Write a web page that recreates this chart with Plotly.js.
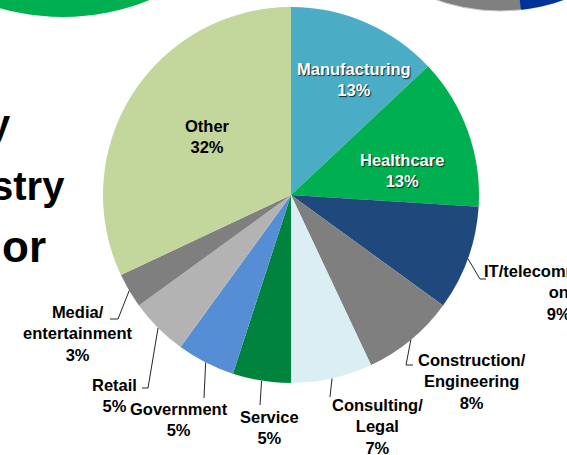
<!DOCTYPE html>
<html>
<head>
<meta charset="utf-8">
<script src="https://cdn.plot.ly/plotly-3.0.1.min.js"></script>
<style>
  html, body { margin: 0; padding: 0; background: #ffffff; }
  #chart { width: 567px; height: 455px; }
</style>
</head>
<body>
<div id="chart"></div>
<script>
// ---------------- DATA ----------------
const categories = ['Manufacturing', 'Healthcare', 'IT/telecommunication', 'Construction/Engineering',
  'Consulting/Legal', 'Service', 'Government', 'Retail', 'Media/entertainment', 'Other'];
const shares = [13, 13, 9, 8, 7, 5, 5, 5, 3, 32];
const labelText = ['Manufacturing', 'Healthcare', 'IT/telecommunicati<br>on', 'Construction/<br>Engineering',
  'Consulting/<br>Legal', 'Service', 'Government', 'Retail', 'Media/<br>entertainment', 'Other'];
const titleFragments = ['y', 'stry', 'or'];

// ---------------- STYLE / LAYOUT ----------------
const W = 567, H = 455;
const fx = x => x / W;
const fy = y => 1 - y / H;

const sliceColors = ['#4BACC6', '#00B050', '#1F497D', '#7F7F7F', '#DAEEF3',
  '#00843D', '#558ED5', '#B3B3B3', '#7F7F7F', '#C3D69B'];

const pie = { cx: 291, cy: 195, R: 188 };

// label block centre (px) and leader-line waypoints after the slice edge (px)
const labelPlace = [
  { x: 354, y: 79, color: '#ffffff', shadow: true },
  { x: 402, y: 170, color: '#ffffff', shadow: true },
  { x: 558, y: 292, lead: [[480, 279], [486, 279]] },
  { x: 472, y: 381, lead: [[406, 365], [413, 365]] },
  { x: 377, y: 426, lead: [[330, 397]] },
  { x: 269, y: 427, lead: [[260, 405]] },
  { x: 179, y: 419, lead: [[204, 398]] },
  { x: 114, y: 395, lead: [[148, 388], [142, 388]] },
  { x: 78, y: 333, lead: [[118, 319], [110, 319]] },
  { x: 207, y: 136, color: '#000000' }
];

const fontFam = '"Liberation Sans", Arial, sans-serif';

// ---------------- BUILD ----------------
const trace = {
  type: 'pie',
  labels: categories,
  values: shares,
  sort: false,
  direction: 'clockwise',
  rotation: 0,
  textinfo: 'none',
  hoverinfo: 'skip',
  showlegend: false,
  marker: { colors: sliceColors, line: { width: 0 } },
  domain: {
    x: [fx(pie.cx - pie.R), fx(pie.cx + pie.R)],
    y: [fy(pie.cy + pie.R), fy(pie.cy - pie.R)]
  }
};

const total = shares.reduce((a, b) => a + b, 0);
const annotations = [];
const shapes = [];

// decorative neighbouring charts (cropped slide)
shapes.push({ type: 'circle', xref: 'paper', yref: 'paper', layer: 'below',
  x0: fx(63 - 229), x1: fx(63 + 229), y0: fy(-212 + 229), y1: fy(-212 - 229),
  fillcolor: '#00B050', line: { width: 0 } });
(function () {
  const c = [500, -178], r = 189;
  shapes.push({ type: 'circle', xref: 'paper', yref: 'paper', layer: 'below',
    x0: fx(c[0] - r), x1: fx(c[0] + r), y0: fy(c[1] + r), y1: fy(c[1] - r),
    fillcolor: '#808080', line: { width: 1, color: '#c8c8c8' } });
  const a0 = Math.atan2(521 - c[0], r);
  let p = 'M' + fx(c[0]) + ',' + fy(c[1]);
  for (let k = 0; k <= 40; k++) {
    const t = a0 + (Math.PI / 2 - a0) * k / 40;
    p += ' L' + fx(c[0] + r * Math.sin(t)) + ',' + fy(c[1] + r * Math.cos(t));
  }
  p += ' Z';
  shapes.push({ type: 'path', xref: 'paper', yref: 'paper', layer: 'below', path: p,
    fillcolor: '#003399', line: { width: 0 } });
})();

let cum = 0;
shares.forEach((v, i) => {
  const mid = 2 * Math.PI * (cum + v / 2) / total;
  cum += v;
  const lp = labelPlace[i];
  const ex = pie.cx + pie.R * Math.sin(mid);
  const ey = pie.cy - pie.R * Math.cos(mid);
  if (lp.lead) {
    let path = 'M' + fx(ex) + ',' + fy(ey);
    lp.lead.forEach(pt => { path += ' L' + fx(pt[0]) + ',' + fy(pt[1]); });
    shapes.push({ type: 'path', xref: 'paper', yref: 'paper', path: path,
      line: { color: '#262626', width: 1 } });
  }
  const font = { family: fontFam, size: 16.5, weight: 700, color: lp.color || '#000000' };
  if (lp.shadow) font.shadow = '1px 1px 1px rgba(0,0,0,0.75)';
  annotations.push({
    xref: 'paper', yref: 'paper', x: fx(lp.x), y: fy(lp.y),
    xanchor: 'center', yanchor: 'middle', align: 'center',
    text: labelText[i] + '<br>' + v + '%',
    showarrow: false, font: font
  });
});

// cropped slide title fragments
const titlePlace = [
  { x: 13, y: 124, size: 40 },
  { x: 67, y: 186, size: 40 },
  { x: 48, y: 247, size: 44 }
];
titleFragments.forEach((t, i) => {
  const tp = titlePlace[i];
  annotations.push({
    xref: 'paper', yref: 'paper', x: fx(tp.x), y: fy(tp.y),
    xanchor: 'right', yanchor: 'middle', text: t, showarrow: false,
    font: { family: fontFam, size: tp.size, weight: 700, color: '#000000' }
  });
});

const layout = {
  width: W, height: H,
  margin: { l: 0, r: 0, t: 0, b: 0, pad: 0 },
  paper_bgcolor: '#ffffff',
  plot_bgcolor: '#ffffff',
  showlegend: false,
  annotations: annotations,
  shapes: shapes
};

Plotly.newPlot('chart', [trace], layout, { displayModeBar: false, staticPlot: true });
</script>
</body>
</html>
